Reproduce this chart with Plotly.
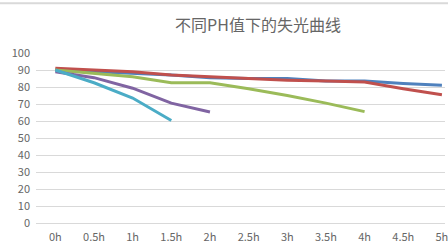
import plotly.graph_objects as go

categories = ["0h", "0.5h", "1h", "1.5h", "2h", "2.5h", "3h", "3.5h", "4h", "4.5h", "5h"]
series_names = ["PH1", "PH2", "PH3", "PH4", "PH5"]
blue = [90, 89, 88, 87, 85.5, 85, 85, 83.5, 83.5, 82, 81]
red = [91, 90, 89, 87, 86, 85, 84, 83.5, 83, 79, 75.5]
green = [90, 88, 86, 82.5, 82.5, 79, 75, 70.5, 65.5]
purple = [89, 85.5, 79.3, 70.5, 65.3]
cyan = [90, 82.5, 73.5, 60.3]
colors = ["#4F81BD", "#C0504D", "#9BBB59", "#8064A2", "#4BACC6"]
values = [blue, red, green, purple, cyan]

fig = go.Figure()
for name, vals, col in zip(series_names, values, colors):
    fig.add_trace(go.Scatter(
        x=categories[:len(vals)], y=vals, mode="lines", name=name,
        line=dict(color=col, width=3), showlegend=False,
    ))

fig.update_layout(
    width=448, height=244,
    margin=dict(l=36, r=0, t=53, b=17),
    paper_bgcolor="white", plot_bgcolor="white",
    font=dict(family="Noto Sans CJK SC, Open Sans, sans-serif", color="#595959", size=11),
    title=dict(text="不同PH值下的失光曲线", x=258/448, xanchor="center", xref="container",
               y=1 - 25/244, yanchor="middle", yref="container",
               font=dict(size=16, color="#666666", family="Noto Sans CJK SC")),
    xaxis=dict(type="category", categoryorder="array", categoryarray=categories,
               range=[-0.5, 10.08], showgrid=False, showline=False, ticks="",
               tickfont=dict(size=11, color="#666666"), ticklabelstandoff=6,
               fixedrange=True),
    yaxis=dict(range=[0, 100], dtick=10, showgrid=True, gridcolor="#D9D9D9", gridwidth=1,
               zeroline=True, zerolinecolor="#D9D9D9", zerolinewidth=1,
               showline=False, ticks="", tickfont=dict(size=11, color="#666666"),
               ticklabelstandoff=5),
    shapes=[dict(type="line", xref="paper", yref="paper", x0=-0.1, x1=1.1,
                 y0=(244 - 2 - 17) / 174, y1=(244 - 2 - 17) / 174,
                 line=dict(color="#D9D9D9", width=2))],
)

fig.write_html("out.html")
